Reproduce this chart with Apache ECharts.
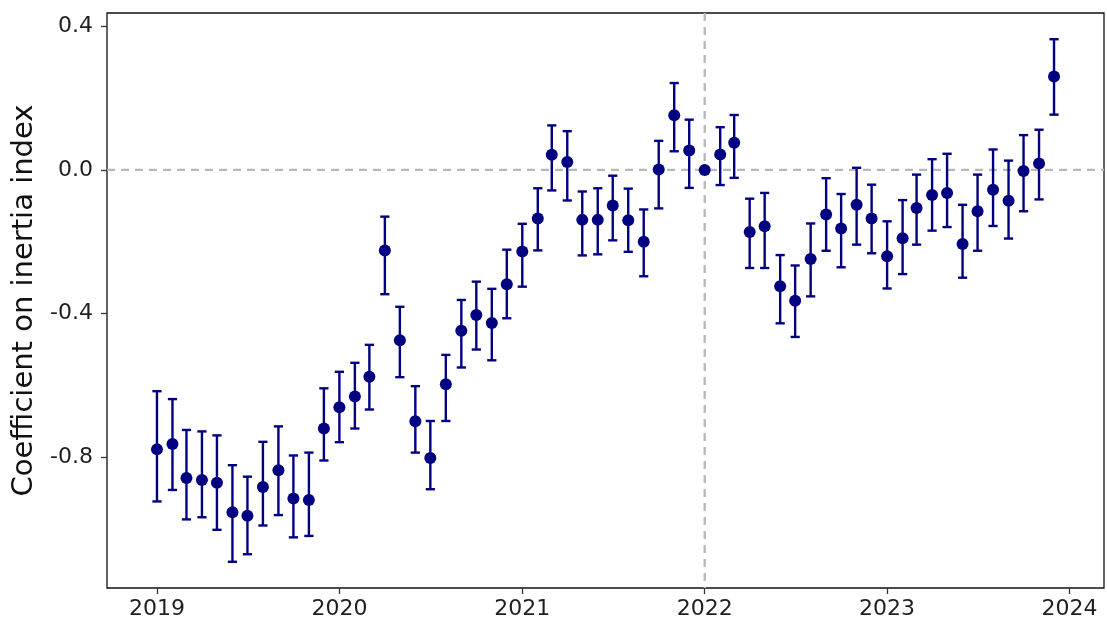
<!DOCTYPE html>
<html>
<head>
<meta charset="utf-8">
<script src="https://cdn.jsdelivr.net/npm/echarts@6/dist/echarts.min.js"></script>
<style>
  html, body { margin: 0; padding: 0; background: #ffffff; }
  #chart { width: 1107px; height: 626px; }
</style>
</head>
<body>
<div id="chart"></div>
<script>
// Monthly observations, Jan 2019 – Dec 2023
const months = [
  '2019-01-01','2019-02-01','2019-03-01','2019-04-01','2019-05-01','2019-06-01','2019-07-01','2019-08-01','2019-09-01','2019-10-01','2019-11-01','2019-12-01',
  '2020-01-01','2020-02-01','2020-03-01','2020-04-01','2020-05-01','2020-06-01','2020-07-01','2020-08-01','2020-09-01','2020-10-01','2020-11-01','2020-12-01',
  '2021-01-01','2021-02-01','2021-03-01','2021-04-01','2021-05-01','2021-06-01','2021-07-01','2021-08-01','2021-09-01','2021-10-01','2021-11-01','2021-12-01',
  '2022-01-01','2022-02-01','2022-03-01','2022-04-01','2022-05-01','2022-06-01','2022-07-01','2022-08-01','2022-09-01','2022-10-01','2022-11-01','2022-12-01',
  '2023-01-01','2023-02-01','2023-03-01','2023-04-01','2023-05-01','2023-06-01','2023-07-01','2023-08-01','2023-09-01','2023-10-01','2023-11-01','2023-12-01'
];

// Point estimates of the coefficient on the inertia index
const estimate = [
  -0.778,-0.763,-0.858,-0.863,-0.871,-0.953,-0.963,-0.883,-0.836,-0.915,-0.919,-0.720,
  -0.661,-0.631,-0.576,-0.224,-0.474,-0.700,-0.802,-0.597,-0.448,-0.404,-0.426,-0.318,
  -0.227,-0.135, 0.042, 0.022,-0.139,-0.139,-0.099,-0.140,-0.200, 0.001, 0.152, 0.054,
   0.000, 0.043, 0.076,-0.173,-0.157,-0.324,-0.364,-0.248,-0.124,-0.163,-0.097,-0.135,
  -0.240,-0.190,-0.106,-0.070,-0.064,-0.206,-0.115,-0.055,-0.086,-0.003, 0.018, 0.260
];

// Lower and upper confidence bounds (reference month Jan 2022 has none)
const lower = [
  -0.923,-0.891,-0.973,-0.967,-1.002,-1.091,-1.070,-0.990,-0.961,-1.023,-1.019,-0.809,
  -0.758,-0.720,-0.667,-0.346,-0.577,-0.787,-0.889,-0.699,-0.550,-0.500,-0.530,-0.413,
  -0.325,-0.224,-0.057,-0.085,-0.238,-0.235,-0.196,-0.228,-0.296,-0.107, 0.052,-0.050,
   null ,-0.042,-0.022,-0.273,-0.273,-0.427,-0.465,-0.352,-0.225,-0.271,-0.208,-0.232,
  -0.330,-0.290,-0.208,-0.169,-0.159,-0.300,-0.225,-0.156,-0.191,-0.115,-0.082, 0.154
];
const upper = [
  -0.616,-0.638,-0.724,-0.728,-0.739,-0.822,-0.854,-0.757,-0.714,-0.795,-0.787,-0.608,
  -0.562,-0.537,-0.487,-0.130,-0.381,-0.602,-0.699,-0.515,-0.362,-0.311,-0.331,-0.222,
  -0.150,-0.051, 0.124, 0.108,-0.060,-0.051,-0.016,-0.052,-0.110, 0.081, 0.242, 0.140,
   null , 0.119, 0.153,-0.080,-0.064,-0.237,-0.266,-0.149,-0.023,-0.067, 0.006,-0.041,
  -0.143,-0.084,-0.013, 0.030, 0.045,-0.097,-0.013, 0.057, 0.026, 0.097, 0.112, 0.364
];

const yearTicks = ['2019-01-01','2020-01-01','2021-01-01','2022-01-01','2023-01-01','2024-01-01'];
const yTicks = [-0.8, -0.4, 0.0, 0.4];
const referenceMonth = '2022-01-01';
const referenceLevel = 0;

// dates are placed on a numeric (millisecond) axis
const toTime = s => new Date(s + 'T00:00:00').getTime();
const DAY = 24 * 3600 * 1000;

const pointData = months.map((m, i) => [toTime(m), estimate[i]]);
const barData = months
  .map((m, i) => [toTime(m), lower[i], upper[i]])
  .filter(d => d[1] !== null && d[2] !== null);

const NAVY = '#000080';
const INK = '#1f1f1f';
const chart = echarts.init(document.getElementById('chart'), null, { renderer: 'canvas' });

chart.setOption({
  animation: false,
  backgroundColor: '#ffffff',
  textStyle: { fontFamily: 'DejaVu Sans' },
  grid: {
    left: 107, right: 3, top: 13, bottom: 38,
    show: true, borderColor: '#111111', borderWidth: 1.3, backgroundColor: 'transparent'
  },
  xAxis: {
    type: 'value',
    min: toTime(months[0]) - 100 * DAY,
    max: toTime(months[months.length - 1]) + 100 * DAY,
    axisLine: { show: false, onZero: false },
    splitLine: { show: false },
    axisTick: {
      show: true, length: 6, inside: false,
      customValues: yearTicks.map(toTime),
      lineStyle: { color: '#333333', width: 1.3 }
    },
    axisLabel: {
      customValues: yearTicks.map(toTime),
      formatter: v => String(new Date(v).getFullYear()),
      color: INK, fontSize: 22, margin: 10,
      fontFamily: 'DejaVu Sans'
    }
  },
  yAxis: {
    type: 'value',
    min: -1.164, max: 0.437,
    name: 'Coefficient on inertia index',
    nameLocation: 'middle',
    nameGap: 66,
    nameTextStyle: { fontSize: 29, color: '#111111', fontFamily: 'DejaVu Sans' },
    axisLine: { show: false, onZero: false },
    splitLine: { show: false },
    axisTick: {
      show: true, length: 6, inside: false,
      customValues: yTicks,
      lineStyle: { color: '#333333', width: 1.3 }
    },
    axisLabel: {
      customValues: yTicks,
      formatter: v => v.toFixed(1),
      color: INK, fontSize: 22, margin: 14,
      fontFamily: 'DejaVu Sans'
    }
  },
  series: [
    {
      // dashed reference lines: zero coefficient and the base month
      type: 'custom',
      z: 1,
      silent: true,
      encode: { x: 0, y: 1 },
      data: [[toTime(referenceMonth), referenceLevel]],
      renderItem: function (params, api) {
        const cs = params.coordSys;
        const p = api.coord([api.value(0), api.value(1)]);
        const style = { stroke: '#b8b8b8', lineWidth: 2.3, lineDash: [8, 6] };
        return {
          type: 'group',
          children: [
            { type: 'line', shape: { x1: cs.x, y1: p[1], x2: cs.x + cs.width, y2: p[1] }, style: style },
            { type: 'line', shape: { x1: p[0], y1: cs.y, x2: p[0], y2: cs.y + cs.height }, style: style }
          ]
        };
      }
    },
    {
      // confidence intervals with end caps
      type: 'custom',
      z: 2,
      encode: { x: 0, y: [1, 2] },
      data: barData,
      renderItem: function (params, api) {
        const x = api.value(0);
        const lo = api.coord([x, api.value(1)]);
        const hi = api.coord([x, api.value(2)]);
        const half = 4.6;
        const style = { stroke: NAVY, lineWidth: 2.4 };
        return {
          type: 'group',
          children: [
            { type: 'line', shape: { x1: lo[0], y1: lo[1], x2: hi[0], y2: hi[1] }, style: style },
            { type: 'line', shape: { x1: lo[0] - half, y1: lo[1], x2: lo[0] + half, y2: lo[1] }, style: style },
            { type: 'line', shape: { x1: hi[0] - half, y1: hi[1], x2: hi[0] + half, y2: hi[1] }, style: style }
          ]
        };
      }
    },
    {
      type: 'scatter',
      z: 3,
      data: pointData,
      symbol: 'circle',
      symbolSize: 12,
      itemStyle: { color: NAVY, opacity: 1 }
    }
  ]
});
</script>
</body>
</html>
